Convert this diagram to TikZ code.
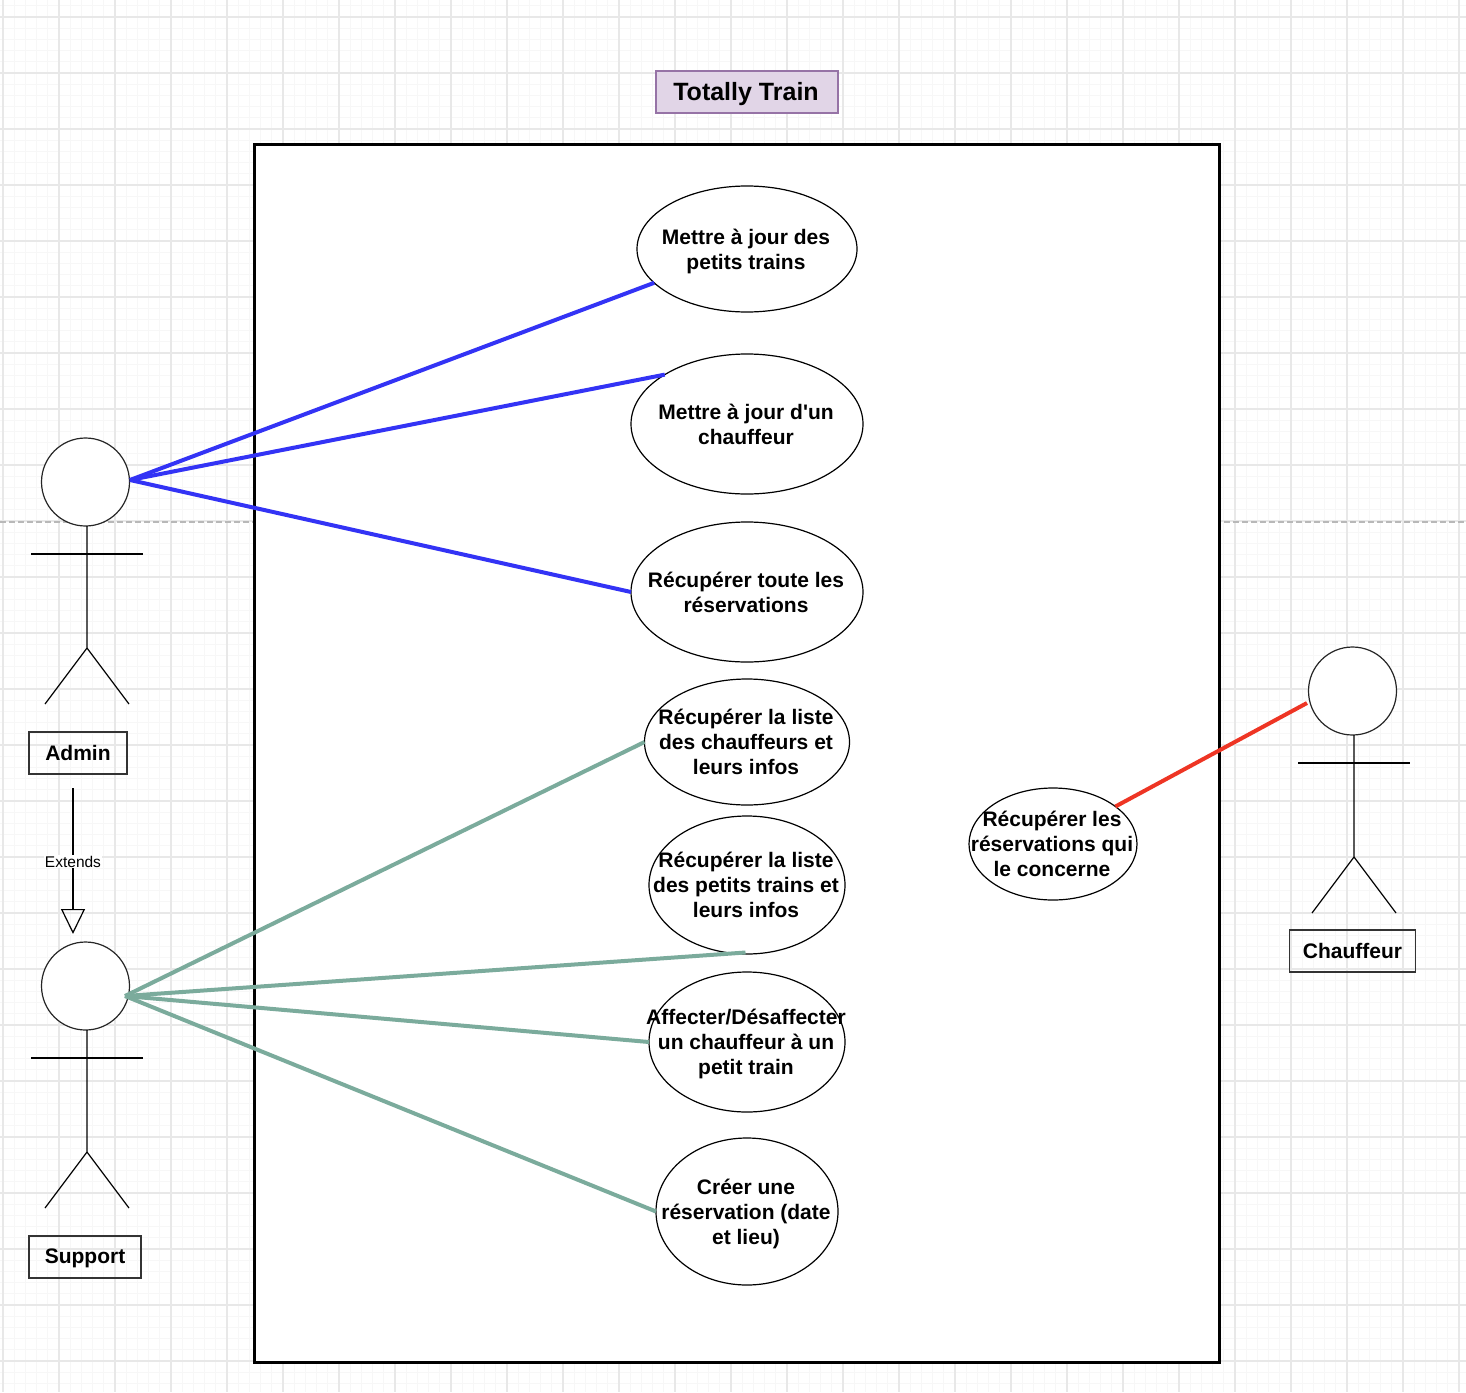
\documentclass[tikz,border=0pt]{standalone}
\usepackage{fontspec}
\setmainfont{Liberation Sans}[Ligatures=TeXOff]
\usepackage{tikz}
\usetikzlibrary{shapes.geometric, arrows.meta}
\definecolor{titlefill}{HTML}{E1D5E7}
\definecolor{titledraw}{HTML}{9673A6}
\definecolor{adminline}{HTML}{3333F5}
\definecolor{supportline}{HTML}{7BAB9C}
\definecolor{driverline}{HTML}{EE3524}
\tikzstyle{usecase} = [ellipse, draw=black, line width=1.2pt, fill=white, inner sep=0pt, outer sep=0pt]
\tikzstyle{casetext} = [align=center, font=\fontsize{21}{25}\selectfont\bfseries, inner sep=0pt]
\tikzstyle{head} = [circle, draw=black!85, line width=1.2pt, fill=white, minimum size=88pt, inner sep=0pt, outer sep=0pt]
\tikzstyle{rolebox} = [rectangle, draw=black!80, line width=1.2pt, minimum height=42pt, font=\fontsize{21}{25}\selectfont\bfseries, inner sep=0pt]
\tikzstyle{admlink} = [adminline, line width=4pt]
\tikzstyle{suplink} = [supportline, line width=4pt]
\tikzstyle{drvlink} = [driverline, line width=4pt]
\begin{document}
\begin{tikzpicture}[x=1pt, y=-1pt, node distance=0pt]
\useasboundingbox (0,0) rectangle (1466,1392);
% Quadrillage
\foreach \i in {0,...,130} {
  \pgfmathsetmacro{\gx}{3+11.2*\i}
  \draw [black!3, line width=1pt] (\gx,0) -- (\gx,1392);
}
\foreach \i in {0,...,124} {
  \pgfmathsetmacro{\gy}{5.8+11.2*\i}
  \draw [black!3, line width=1pt] (0,\gy) -- (1466,\gy);
}
\foreach \i in {0,...,26} {
  \pgfmathsetmacro{\gx}{3+56*\i}
  \draw [black!9, line width=1.4pt] (\gx,0) -- (\gx,1392);
}
\foreach \i in {0,...,24} {
  \pgfmathsetmacro{\gy}{17+56*\i}
  \draw [black!9, line width=1.4pt] (0,\gy) -- (1466,\gy);
}
\draw [black!28, line width=1.4pt, dash pattern=on 6pt off 3pt] (0,522) -- (1466,522);

% Cadre et titre
\node (system) [rectangle, draw=black, line width=3pt, fill=white, minimum width=965pt, minimum height=1218pt, inner sep=0pt] at (736.5,753) {};
\node (title) [rectangle, draw=titledraw, fill=titlefill, line width=1.2pt, minimum width=182pt, minimum height=42pt, inner sep=0pt] at (747,92) {};
\node (ttitle) [font=\fontsize{25}{30}\selectfont\bfseries, inner sep=0pt, yshift=-2.5pt, xshift=-1pt] at (title) {Totally Train};

% Cas d'utilisation
\node (majtrains) [usecase, minimum width=220pt, minimum height=126pt] at (747,249) {};
\node (majchauffeur) [usecase, minimum width=232pt, minimum height=140pt, below of=majtrains, yshift=-175pt] {};
\node (resatoutes) [usecase, minimum width=232pt, minimum height=140pt, below of=majchauffeur, yshift=-168pt] {};
\node (listechauffeurs) [usecase, minimum width=205pt, minimum height=126pt, below of=resatoutes, yshift=-150pt] {};
\node (listetrains) [usecase, minimum width=196pt, minimum height=138pt, below of=listechauffeurs, yshift=-143pt] {};
\node (affecter) [usecase, minimum width=196pt, minimum height=140pt, below of=listetrains, yshift=-157pt] {};
\node (creerresa) [usecase, minimum width=182pt, minimum height=147pt, below of=affecter, yshift=-169.5pt] {};
\node (resachauffeur) [usecase, minimum width=168pt, minimum height=112pt] at (1053,844) {};

\node (tmajtrains) [casetext, xshift=-1pt, yshift=-2pt] at (majtrains) {Mettre à jour des\\petits trains};
\node (tmajchauffeur) [casetext, xshift=-1pt] at (majchauffeur) {Mettre à jour d'un\\chauffeur};
\node (tresatoutes) [casetext, xshift=-1pt] at (resatoutes) {Récupérer toute les\\réservations};
\node (tlistechauffeurs) [casetext, xshift=-1pt] at (listechauffeurs) {Récupérer la liste\\des chauffeurs et\\leurs infos};
\node (tlistetrains) [casetext, xshift=-1pt] at (listetrains) {Récupérer la liste\\des petits trains et\\leurs infos};
\node (taffecter) [casetext, xshift=-1pt, yshift=-2pt] at (affecter) {Affecter/Désaffecter\\un chauffeur à un\\petit train};
\node (tcreerresa) [casetext, xshift=-1pt, yshift=-2pt] at (creerresa) {Créer une\\réservation (date\\et lieu)};
\node (tresachauffeur) [casetext, xshift=-1pt] at (resachauffeur) {Récupérer les\\réservations qui\\le concerne};

% Acteurs
\node (admin) [head] at (85.5,482) {};
\node (support) [head, below of=admin, yshift=-504pt] {};
\node (chauffeur) [head] at (1352.5,691) {};
\foreach \who in {admin,support,chauffeur} {
  \draw [black, line width=1.2pt] ([xshift=1.5pt]\who.south) -- ++(0,122) -- ++(-42,56);
  \draw [black, line width=1.2pt] ([xshift=1.5pt]\who.south) ++(0,122) -- ++(42,56);
  \draw [black, line width=1.2pt] ([xshift=-54.5pt]\who.south) ++(0,28) -- ++(112,0);
}
\node (ladmin) [rolebox, minimum width=98pt, below of=admin, yshift=-271pt, xshift=-7.5pt] {};
\node (lsupport) [rolebox, minimum width=112pt, below of=support, yshift=-271pt, xshift=-0.5pt] {};
\node (lchauffeur) [rolebox, minimum width=126pt, below of=chauffeur, yshift=-260pt] {};
\node (tadmin) [casetext] at (ladmin) {Admin};
\node (tsupport) [casetext, yshift=-1.5pt] at (lsupport) {Support};
\node (tchauffeur) [casetext] at (lchauffeur) {Chauffeur};

% Extends
\coordinate (extstart) at (73,788);
\coordinate (extend) at (73,934);
\draw [black, line width=1.2pt, -{Triangle[open, length=25pt, width=24pt]}] (extstart) -- (extend) node[pos=0.505, fill=white, inner sep=1pt, text=black, font=\fontsize{15.5}{18}\selectfont] (lextends) {Extends};

% Liaisons
\coordinate (adminport) at (130,480);
\coordinate (supportport) at (125,996);
\coordinate (chauffeurport) at (1307,703);
\draw [admlink] (adminport) -- (majtrains.200);
\draw [admlink] (adminport) -- (majchauffeur.149);
\draw [admlink] (adminport) -- (resatoutes.west);
\draw [suplink] (supportport) -- (listechauffeurs.west);
\draw [suplink] (supportport) -- ([xshift=-1.5pt, yshift=1.5pt]listetrains.south);
\draw [suplink] (supportport) -- (affecter.west);
\draw [suplink] (supportport) -- (creerresa.west);
\draw [drvlink] (resachauffeur.31) -- (chauffeurport);
\end{tikzpicture}
\end{document}
